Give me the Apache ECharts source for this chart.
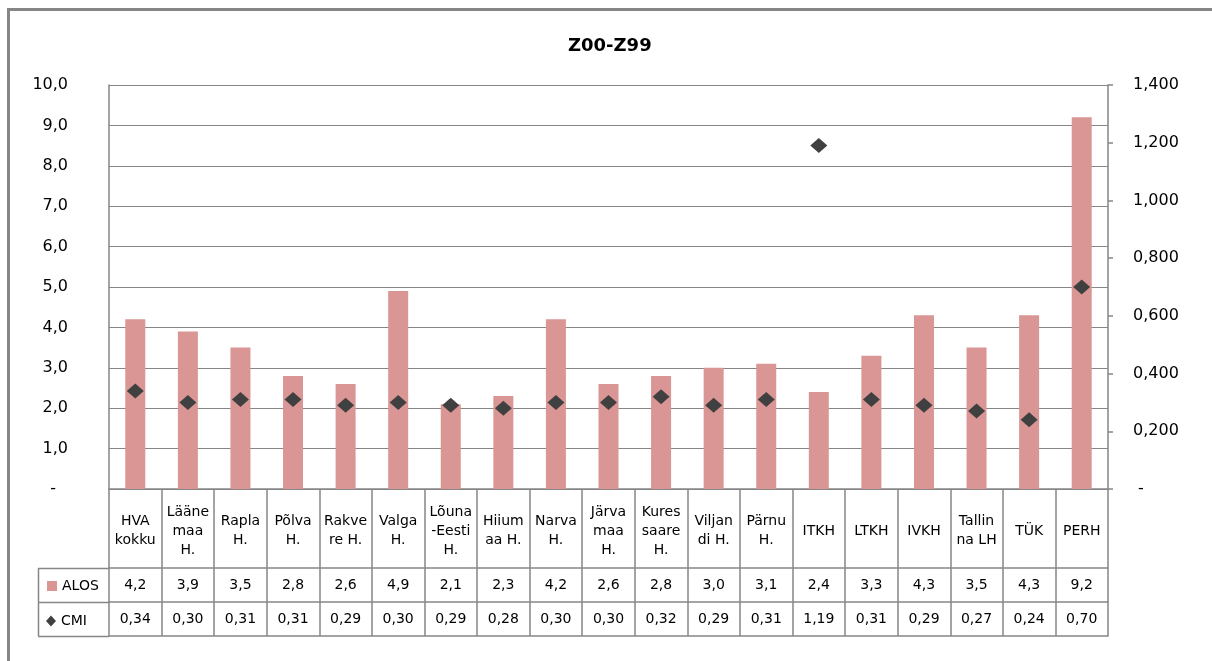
<!DOCTYPE html>
<html>
<head>
<meta charset="utf-8">
<script src="https://cdn.jsdelivr.net/npm/echarts@6/dist/echarts.min.js"></script>
<style>html,body{margin:0;padding:0;background:#fff;}#c{width:1212px;height:661px;}</style>
</head>
<body>
<div id="c"></div>
<script>
var categories = ['HVA\nkokku','Lääne\nmaa\nH.','Rapla\nH.','Põlva\nH.','Rakve\nre H.','Valga\nH.','Lõuna\n-Eesti\nH.','Hiium\naa H.','Narva\nH.','Järva\nmaa\nH.','Kures\nsaare\nH.','Viljan\ndi H.','Pärnu\nH.','ITKH','LTKH','IVKH','Tallin\nna LH','TÜK','PERH'];
var alos = [4.2,3.9,3.5,2.8,2.6,4.9,2.1,2.3,4.2,2.6,2.8,3.0,3.1,2.4,3.3,4.3,3.5,4.3,9.2];
var cmi = [0.34,0.30,0.31,0.31,0.29,0.30,0.29,0.28,0.30,0.30,0.32,0.29,0.31,1.19,0.31,0.29,0.27,0.24,0.70];
var leftTicks = {min:0, max:10, interval:1};
var rightTicks = {min:0, max:1.4, interval:0.2};

function fmt(v, d){ return v.toFixed(d).replace('.', ','); }
var LINE = '#868686';
var FONT = 'DejaVu Sans';

var chart = echarts.init(document.getElementById('c'));
var tableX = 38, gridL = 109, gridR = 1108, gridB = 489;
var rowY = [568, 602, 636];

var graphics = [{
  type:'rect', shape:{x:8.5,y:9.5,width:1300,height:700},
  style:{fill:'none', stroke:LINE, lineWidth:3}, silent:true
}];
rowY.forEach(function(y){
  graphics.push({type:'line', shape:{x1:tableX,y1:y+0.5,x2:gridL,y2:y+0.5}, style:{stroke:LINE,lineWidth:1.5}, silent:true});
});
graphics.push({type:'line', shape:{x1:tableX+0.5,y1:rowY[0],x2:tableX+0.5,y2:rowY[2]}, style:{stroke:LINE,lineWidth:1.5}, silent:true});

function rowAxis(data, y, showLabel){
  return {type:'category', data:data, position:'bottom', offset:y-gridB,
    axisLine:{show:true, onZero:false, lineStyle:{color:LINE, width:1.5}}, axisTick:{show:false},
    axisLabel:{show:showLabel, interval:0, margin:17, verticalAlign:'middle', fontFamily:FONT, fontSize:14, color:'#000'}};
}

chart.setOption({
  animation:false,
  backgroundColor:'#fff',
  textStyle:{fontFamily:FONT},
  title:{text:'Z00-Z99', left:568, top:37, padding:0, textStyle:{fontFamily:FONT, fontSize:18, fontWeight:'bold', color:'#000'}},
  legend:[
    {data:['ALOS'], left:47, top:579, padding:0, itemWidth:10, itemHeight:10, icon:'rect', selectedMode:false,
     textStyle:{fontFamily:FONT, fontSize:14, color:'#000'}},
    {data:['CMI'], left:46, top:614, padding:0, itemWidth:10, itemHeight:11, icon:'diamond', selectedMode:false,
     textStyle:{fontFamily:FONT, fontSize:14, color:'#000'}}
  ],
  grid:{left:gridL, right:1212-gridR, top:85, bottom:661-gridB, containLabel:false},
  xAxis:[
    {type:'category', data:categories, position:'bottom',
     axisLine:{show:true, onZero:false, lineStyle:{color:LINE, width:1.5}},
     axisTick:{show:true, length:147, interval:0, alignWithLabel:false, lineStyle:{color:LINE, width:1.5}},
     axisLabel:{interval:0, margin:42, verticalAlign:'middle', lineHeight:19, fontFamily:FONT, fontSize:14, color:'#000'}},
    rowAxis(alos.map(function(v){return fmt(v,1);}), rowY[0], true),
    rowAxis(cmi.map(function(v){return fmt(v,2);}), rowY[1], true),
    rowAxis(categories, rowY[2], false)
  ],
  yAxis:[
    {type:'value', min:leftTicks.min, max:leftTicks.max, interval:leftTicks.interval, position:'left',
     axisLine:{show:true, lineStyle:{color:LINE, width:1.5}}, axisTick:{show:false},
     splitLine:{show:true, lineStyle:{color:LINE, width:1.2}},
     axisLabel:{margin:41, fontFamily:FONT, fontSize:16, color:'#000',
       formatter:function(v){ return v===0 ? '{z|-}' : fmt(v,1); },
       rich:{z:{fontFamily:FONT, fontSize:16, color:'#000', padding:[0,12,0,0]}}}},
    {type:'value', min:rightTicks.min, max:rightTicks.max, interval:rightTicks.interval, position:'right',
     axisLine:{show:true, lineStyle:{color:LINE, width:1.5}},
     axisTick:{show:true, length:5, lineStyle:{color:LINE, width:1.5}},
     splitLine:{show:false},
     axisLabel:{margin:25, fontFamily:FONT, fontSize:16, color:'#000',
       formatter:function(v){ return v===0 ? ' -' : fmt(v,3); }}}
  ],
  series:[
    {name:'ALOS', type:'bar', data:alos, xAxisIndex:0, yAxisIndex:0, barWidth:20,
     itemStyle:{color:'#d99694'}},
    {name:'CMI', type:'scatter', data:cmi, xAxisIndex:0, yAxisIndex:1, symbol:'diamond', symbolSize:[17,15],
     itemStyle:{color:'#404040', opacity:1}, z:5}
  ],
  graphic:graphics
});
</script>
</body>
</html>
